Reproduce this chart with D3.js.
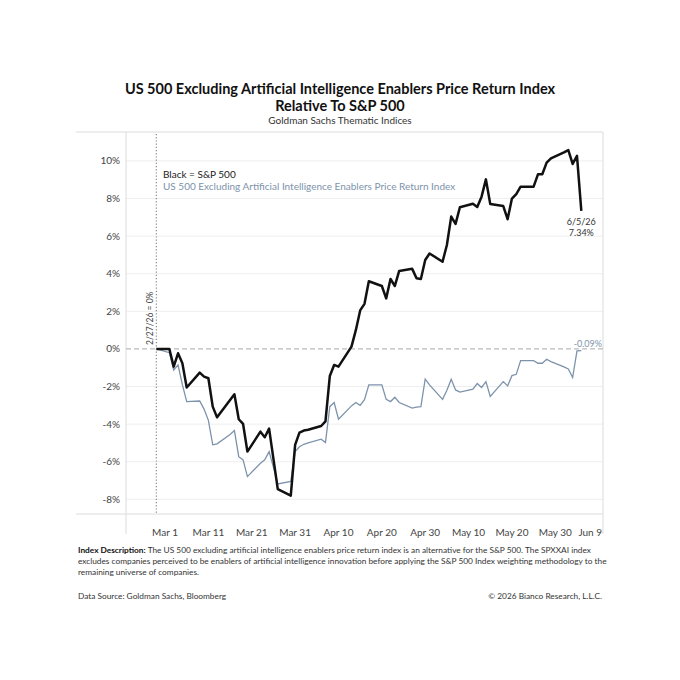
<!DOCTYPE html>
<html>
<head>
<meta charset="utf-8">
<script src="https://cdn.jsdelivr.net/npm/d3@7"></script>
<style>
body { margin: 0; background: #fff; }
svg { font-family: Lato, "Open Sans", sans-serif; }
</style>
</head>
<body>
<div id="grafico"></div>
<script>
var datas = [
    "2026-02-27",
    "2026-03-02", "2026-03-03", "2026-03-04", "2026-03-05", "2026-03-06",
    "2026-03-09", "2026-03-10", "2026-03-11", "2026-03-12", "2026-03-13",
    "2026-03-16", "2026-03-17", "2026-03-18", "2026-03-19", "2026-03-20",
    "2026-03-23", "2026-03-24", "2026-03-25", "2026-03-26", "2026-03-27",
    "2026-03-30", "2026-03-31", "2026-04-01", "2026-04-02", "2026-04-03",
    "2026-04-06", "2026-04-07", "2026-04-08", "2026-04-09", "2026-04-10",
    "2026-04-13", "2026-04-14", "2026-04-15", "2026-04-16", "2026-04-17",
    "2026-04-20", "2026-04-21", "2026-04-22", "2026-04-23", "2026-04-24",
    "2026-04-27", "2026-04-28", "2026-04-29", "2026-04-30", "2026-05-01",
    "2026-05-04", "2026-05-05", "2026-05-06", "2026-05-07", "2026-05-08",
    "2026-05-11", "2026-05-12", "2026-05-13", "2026-05-14", "2026-05-15",
    "2026-05-18", "2026-05-19", "2026-05-20", "2026-05-21", "2026-05-22",
    "2026-05-25", "2026-05-26", "2026-05-27", "2026-05-28", "2026-05-29",
    "2026-06-01", "2026-06-02", "2026-06-03", "2026-06-04", "2026-06-05"
];

// S&P 500 (linha preta), % desde 2/27/26
var sp500 = [
    0,
    0, -0.94, -0.23, -0.76, -2.05,
    -1.26, -1.47, -1.56, -3.07, -3.64,
    -2.72, -2.41, -3.74, -3.99, -5.46,
    -4.40, -4.70, -4.24, -5.85, -7.46,
    -7.80, -5.10, -4.45, -4.34, -4.30,
    -4.10, -3.85, -1.44, -0.85, -0.94,
    0.12, 1.00, 2.05, 2.40, 3.60,
    3.35, 2.69, 3.72, 3.35, 4.15,
    4.26, 3.76, 3.72, 4.73, 5.08,
    4.64, 5.53, 7.04, 6.65, 7.54,
    7.72, 7.55, 8.10, 9.02, 7.71,
    7.60, 6.90, 8.00, 8.24, 8.63,
    8.63, 9.29, 9.29, 9.91, 10.14,
    10.46, 10.58, 9.84, 10.27, 7.34
];

// US 500 ex AI enablers (linha cinza)
var spxxai = [
    0,
    -0.20, -1.12, -0.85, -1.90, -2.80,
    -2.77, -3.20, -3.80, -5.10, -5.05,
    -4.55, -4.34, -5.73, -5.90, -6.79,
    -6.08, -5.90, -5.46, -6.30, -7.18,
    -7.05, -5.46, -5.20, -5.07, -5.00,
    -4.80, -4.98, -3.07, -2.85, -3.74,
    -3.03, -2.85, -3.00, -2.70, -1.91,
    -1.91, -2.68, -2.80, -2.57, -2.85,
    -3.15, -3.10, -3.07, -1.60, -1.91,
    -2.68, -2.20, -1.61, -2.18, -2.30,
    -2.14, -1.84, -2.05, -1.74, -2.53,
    -1.74, -1.97, -1.42, -1.35, -0.62,
    -0.62, -0.76, -0.76, -0.55, -0.67,
    -0.95, -1.06, -1.52, -0.10, -0.09
];

var ticksY = [-8, -6, -4, -2, 0, 2, 4, 6, 8, 10];
var ticksX = ["2026-03-01", "2026-03-11", "2026-03-21", "2026-03-31", "2026-04-10",
    "2026-04-20", "2026-04-30", "2026-05-10", "2026-05-20", "2026-05-30", "2026-06-09"];

var parse = d3.utcParse("%Y-%m-%d");
var fmtTick = d3.utcFormat("%b %-d");

var largura = 680, altura = 680;
var esq = 126, dir = 603, topo = 132, base = 514;

var svg = d3.select("#grafico").append("svg")
    .attr("width", largura)
    .attr("height", altura);

var x = d3.scaleUtc()
    .domain([parse("2026-02-20"), parse("2026-06-10")])
    .range([esq, dir]);

var y = d3.scaleLinear()
    .domain([-8.78, 11.54])
    .range([base, topo]);

// titulos
svg.append("text")
    .attr("x", 340).attr("y", 94)
    .attr("text-anchor", "middle")
    .attr("font-size", "14.5px").attr("font-weight", "bold").attr("fill", "#111")
    .text("US 500 Excluding Artificial Intelligence Enablers Price Return Index");
svg.append("text")
    .attr("x", 340).attr("y", 111)
    .attr("text-anchor", "middle")
    .attr("font-size", "14.5px").attr("font-weight", "bold").attr("fill", "#111")
    .text("Relative To S&P 500");
svg.append("text")
    .attr("x", 340).attr("y", 124)
    .attr("text-anchor", "middle")
    .attr("font-size", "10px").attr("fill", "#333")
    .text("Goldman Sachs Thematic Indices");

// grade
svg.append("g").selectAll("line")
    .data(ticksY.filter(d => d != 0))
    .enter().append("line")
    .attr("x1", esq).attr("x2", dir)
    .attr("y1", d => y(d)).attr("y2", d => y(d))
    .attr("stroke", "#eeeeee").attr("stroke-width", 1);

// moldura
var moldura = svg.append("g").attr("stroke", "#dcdcdc").attr("stroke-width", 1);
moldura.append("line").attr("x1", 76).attr("x2", dir).attr("y1", topo).attr("y2", topo);
moldura.append("line").attr("x1", 76).attr("x2", dir).attr("y1", base).attr("y2", base);
moldura.append("line").attr("x1", esq).attr("x2", esq).attr("y1", topo).attr("y2", 534);
moldura.append("line").attr("x1", dir).attr("x2", dir).attr("y1", topo).attr("y2", 534);

// eixo y
svg.append("g").selectAll("text")
    .data(ticksY)
    .enter().append("text")
    .attr("x", 120).attr("y", d => y(d))
    .attr("dy", "0.35em")
    .attr("text-anchor", "end")
    .attr("font-size", "10px").attr("fill", "#444")
    .text(d => d + "%");

// eixo x
svg.append("g").selectAll("text")
    .data(ticksX)
    .enter().append("text")
    .attr("x", (d, i) => i == ticksX.length - 1 ? dir - 1 : x(parse(d)))
    .attr("y", 532)
    .attr("dy", "0.35em")
    .attr("text-anchor", (d, i) => i == ticksX.length - 1 ? "end" : "middle")
    .attr("font-size", "10px").attr("fill", "#444")
    .text(d => fmtTick(parse(d)));

// linha do zero
svg.append("line")
    .attr("x1", esq).attr("x2", dir)
    .attr("y1", y(0)).attr("y2", y(0))
    .attr("stroke", "#bbbbbb").attr("stroke-width", 1.2)
    .attr("stroke-dasharray", "5,3");

// linha pontilhada de inicio
var inicio = parse(datas[0]);
svg.append("line")
    .attr("x1", x(inicio)).attr("x2", x(inicio))
    .attr("y1", topo + 2).attr("y2", base)
    .attr("stroke", "#888").attr("stroke-width", 1.2)
    .attr("stroke-dasharray", "1.2,2");
svg.append("text")
    .attr("transform", "translate(" + (x(inicio) - 3) + "," + (y(0) - 4) + ") rotate(-90)")
    .attr("text-anchor", "start")
    .attr("font-size", "8.5px").attr("fill", "#444")
    .text("2/27/26 = 0%");

var serie = (vals) => vals.map((v, i) => ({ data: parse(datas[i]), valor: v }));

var linha = d3.line()
    .x(d => x(d.data))
    .y(d => y(d.valor));

svg.append("path")
    .datum(serie(spxxai))
    .attr("d", linha)
    .attr("fill", "none")
    .attr("stroke", "#7d93ab")
    .attr("stroke-width", 1.3);

svg.append("path")
    .datum(serie(sp500))
    .attr("d", linha)
    .attr("fill", "none")
    .attr("stroke", "#111")
    .attr("stroke-width", 2.5)
    .attr("stroke-linejoin", "round");

// legenda
svg.append("text")
    .attr("x", 163).attr("y", 178)
    .attr("font-size", "10px").attr("fill", "#222")
    .text("Black = S&P 500");
svg.append("text")
    .attr("x", 163).attr("y", 190)
    .attr("font-size", "10px").attr("fill", "#7d93ab")
    .text("US 500 Excluding Artificial Intelligence Enablers Price Return Index");

// rotulos finais
var n = datas.length - 1;
var xFim = x(parse(datas[n]));
svg.append("text")
    .attr("x", xFim).attr("y", y(sp500[n]) + 14)
    .attr("text-anchor", "middle")
    .attr("font-size", "9px").attr("fill", "#333")
    .text("6/5/26");
svg.append("text")
    .attr("x", xFim).attr("y", y(sp500[n]) + 25)
    .attr("text-anchor", "middle")
    .attr("font-size", "9px").attr("fill", "#333")
    .text(sp500[n].toFixed(2) + "%");
svg.append("text")
    .attr("x", dir - 1).attr("y", y(spxxai[n]) - 4)
    .attr("text-anchor", "end")
    .attr("font-size", "9px").attr("fill", "#7d93ab")
    .text(spxxai[n].toFixed(2) + "%");

// rodape
var desc = [
    ["Index Description: ", "The US 500 excluding artificial intelligence enablers price return index is an alternative for the S&P 500. The SPXXAI index"],
    ["", "excludes companies perceived to be enablers of artificial intelligence innovation before applying the S&P 500 Index weighting methodology to the"],
    ["", "remaining universe of companies."]
];
desc.forEach((l, i) => {
    var t = svg.append("text")
        .attr("x", 78).attr("y", 553 + i * 11)
        .attr("font-size", "8.3px").attr("fill", "#333");
    if (l[0]) t.append("tspan").attr("font-weight", "bold").attr("fill", "#111").text(l[0]);
    t.append("tspan").text(l[1]);
});

svg.append("text")
    .attr("x", 78).attr("y", 599)
    .attr("font-size", "8.3px").attr("fill", "#333")
    .text("Data Source: Goldman Sachs, Bloomberg");
svg.append("text")
    .attr("x", dir - 1).attr("y", 599)
    .attr("text-anchor", "end")
    .attr("font-size", "8.3px").attr("fill", "#333")
    .text("© 2026 Bianco Research, L.L.C.");
</script>
</body>
</html>
